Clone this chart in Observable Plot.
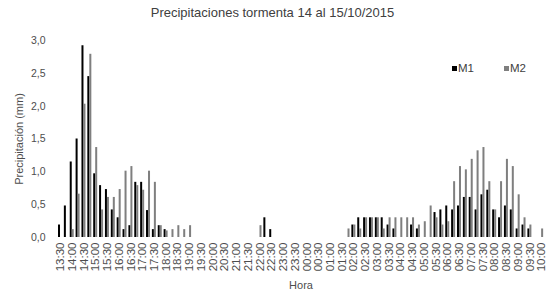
<!DOCTYPE html>
<html><head><meta charset="utf-8">
<script src="https://cdn.jsdelivr.net/npm/d3@7"></script>
<script src="https://cdn.jsdelivr.net/npm/@observablehq/plot@0.6"></script>
<style>
body{margin:0;background:#fff;}
#wrap{position:relative;width:549px;height:295px;font-family:"Liberation Sans",Arial,sans-serif;color:#595959;}
#title{position:absolute;left:0;width:545px;top:5px;text-align:center;font-size:13px;color:#404040;}
.leg{position:absolute;top:62px;font-size:11.5px;color:#404040;display:flex;align-items:center;}
.sw{display:inline-block;width:5px;height:5px;margin-right:1px;}
#chart{position:absolute;left:0;top:0;}
g[aria-label="fx-axis tick label"] text{font-size:11.5px;}
g[aria-label="fx-axis label"] text, g[aria-label="y-axis label"] text{font-size:11px;}
g[aria-label="y-axis tick label"] text{font-size:10.5px;}
</style>
</head><body>
<div id="wrap">
  <div id="chart"></div>
  <div id="title">Precipitaciones tormenta 14 al 15/10/2015</div>
  <div class="leg" style="left:452px"><span class="sw" style="background:#000"></span>M1</div>
  <div class="leg" style="left:504px"><span class="sw" style="background:#7f7f7f"></span>M2</div>
</div>
<script>
const times = ["13:30","13:45","14:00","14:15","14:30","14:45","15:00","15:15","15:30","15:45",
"16:00","16:15","16:30","16:45","17:00","17:15","17:30","17:45","18:00","18:15",
"18:30","18:45","19:00","19:15","19:30","19:45","20:00","20:15","20:30","20:45",
"21:00","21:15","21:30","21:45","22:00","22:15","22:30","22:45","23:00","23:15",
"23:30","23:45","00:00","00:15","00:30","00:45","01:00","01:15","01:30","01:45",
"02:00","02:15","02:30","02:45","03:00","03:15","03:30","03:45","04:00","04:15",
"04:30","04:45","05:00","05:15","05:30","05:45","06:00","06:15","06:30","06:45",
"07:00","07:15","07:30","07:45","08:00","08:15","08:30","08:45","09:00","09:15",
"09:30","09:45","10:00"];

const tickLabels = ["13:30","14:00","14:30","15:00","15:30","16:00","16:30","17:00","17:30","18:00",
"18:30","19:00","19:30","20:00","20:30","21:00","21:30","22:00","22:30","23:00",
"23:30","00:00","00:30","01:00","01:30","02:00","02:30","03:00","03:30","04:00",
"04:30","05:00","05:30","06:00","06:30","07:00","07:30","08:00","08:30","09:00",
"09:30","10:00"];

const m1 = [0.19,0.48,1.15,1.50,2.92,2.45,0.97,0.79,0.73,0.42,
0.30,0.12,0.18,0.84,0.84,0.41,0.12,0.18,0.12,0,
0,0,0,0,0,0,0,0,0,0,
0,0,0,0,0,0.30,0.12,0,0,0,
0,0,0,0,0,0,0,0,0,0,
0.19,0.30,0.30,0.30,0.30,0.30,0.19,0.13,0,0,
0.19,0.13,0,0,0.38,0.42,0.48,0.42,0.48,0.61,
0.61,0.42,0.65,0.72,0.42,0.30,0.48,0.42,0.13,0.19,
0.13,0,0];

const m2 = [0,0,0.12,0.66,2.03,2.79,1.37,0.42,0.61,0.61,
0.73,1.01,1.08,0.79,0.72,1.01,0.84,0.18,0.10,0.12,
0.18,0.12,0.18,0,0,0,0,0,0,0,
0,0,0,0,0.18,0,0,0,0,0,
0,0,0,0,0,0,0,0,0,0.13,
0.19,0.13,0.30,0.30,0.30,0.13,0.30,0.30,0.30,0.30,
0.30,0.19,0.24,0.48,0.30,0.19,0.24,0.85,1.08,1.03,
1.19,1.32,1.37,0.85,0.42,0.85,1.19,1.08,0.65,0.30,
0.19,0,0.13];

const seriesNames = ["M1","M2"];
const seriesColors = ["#000000","#7f7f7f"];
const yTicks = [0,0.5,1,1.5,2,2.5,3];

const rows = [];
times.forEach((t,i) => {
  rows.push({time:t, series:"M1", value:m1[i]});
  rows.push({time:t, series:"M2", value:m2[i]});
});
const tickSet = new Set(tickLabels);

const chart = Plot.plot({
  width: 549, height: 295,
  marginTop: 40, marginBottom: 58, marginLeft: 57, marginRight: 5,
  style: {fontFamily: '"Liberation Sans", Arial, sans-serif', fontSize: "10.5px", color: "#4d4d4d", background: "transparent"},
  fx: {domain: times, padding: 0, axis: "bottom", label: "Hora", labelAnchor: "center", labelOffset: 51, labelArrow: "none",
       tickRotate: -90, tickSize: 0, tickPadding: 5, tickFormat: d => tickSet.has(d) ? d : ""},
  x: {domain: seriesNames, axis: null, paddingInner: 0, paddingOuter: 0.25},
  y: {domain: [0,3], ticks: yTicks, tickFormat: d => d.toFixed(1).replace(".", ","), tickSize: 0, tickPadding: 12,
      label: "Precipitación (mm)", labelAnchor: "center", labelOffset: 42, labelArrow: "none"},
  color: {domain: seriesNames, range: seriesColors},
  marks: [
    Plot.barY(rows, {fx: "time", x: "series", y: "value", fill: "series"})
  ]
});
document.getElementById("chart").appendChild(chart);
</script>
</body></html>
